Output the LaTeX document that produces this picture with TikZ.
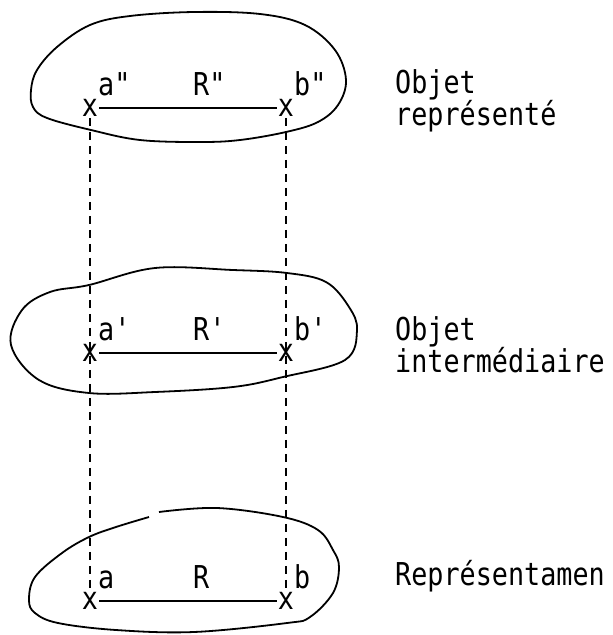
\documentclass[tikz,border=0pt]{standalone}
\usepackage{fontspec}
\newfontfamily\typefont{DejaVu Sans Mono}[FakeStretch=0.85]
\usetikzlibrary{positioning}

\begin{document}
\begin{tikzpicture}[
    x=1pt, y=-1pt,
    txt/.style={font=\typefont\fontsize{31.5}{32}\selectfont, inner sep=0pt},
    point/.style={txt, inner sep=1pt},
    ptlabel/.style={txt, anchor=base west},
    desc/.style={txt, anchor=base west, align=left},
    relation/.style={line width=2pt},
    projection/.style={line width=2pt, dash pattern=on 8pt off 6pt},
    outline/.style={line width=1.8pt, line join=round}
]
\useasboundingbox (0,0) rectangle (613,635);

% the three objects
\draw[outline] plot[smooth cycle, tension=0.6] coordinates {
    (31,90) (37,70) (57,47) (90,25) (130,16) (194,12) (260,14) (305,25)
    (335,50) (346,80) (338,105) (318,122) (286,132) (240,140) (200,142)
    (140,140) (91,130) (47,118) (33,107)};
\draw[outline] plot[smooth cycle, tension=0.6] coordinates {
    (11,345) (22,310) (50,292) (89,285) (155,268) (233,270) (287,273)
    (326,282) (349,307) (357,330) (345,360) (283,377) (233,387) (155,392)
    (89,393) (39,380)};
\draw[outline] plot[smooth, tension=0.6] coordinates {
    (159,512) (217,508) (283,517) (318,530) (333,550) (339,567) (333,593)
    (310,617) (287,623) (194,632) (116,630) (58,623) (35,613) (29,600)
    (35,577) (62,553) (89,537) (116,527) (149,517)};

% points
\node[point] (a2) at (90,108) {x};
\node[point] (b2) at (286,108) {x};
\node[point] (a1) at (90,353) {x};
\node[point] (b1) at (286,353) {x};
\node[point] (a0) at (90,601) {x};
\node[point] (b0) at (286,601) {x};

\node[ptlabel] at (98,95) {a\textquotedbl};
\node[ptlabel] at (193,95) {R\textquotedbl};
\node[ptlabel] at (294,95) {b\textquotedbl};
\node[ptlabel] at (98,340) {a\textquotesingle};
\node[ptlabel] at (193,340) {R\textquotesingle};
\node[ptlabel] at (294,340) {b\textquotesingle};
\node[ptlabel] at (98,588) {a};
\node[ptlabel] at (193,588) {R};
\node[ptlabel] at (294,588) {b};

\draw[relation] (a2) -- (b2);
\draw[relation] (a1) -- (b1);
\draw[relation] (a0) -- (b0);

\draw[projection] (a2) -- (a0);
\draw[projection] (b2) -- (b0);

% names (base = last line)
\node[desc] (repr) at (395,125) {Objet\\représenté};
\node[desc] (inter) at (395,372) {Objet\\intermédiaire};
\node[desc] (sign) at (395,585) {Représentamen};

\end{tikzpicture}
\end{document}
